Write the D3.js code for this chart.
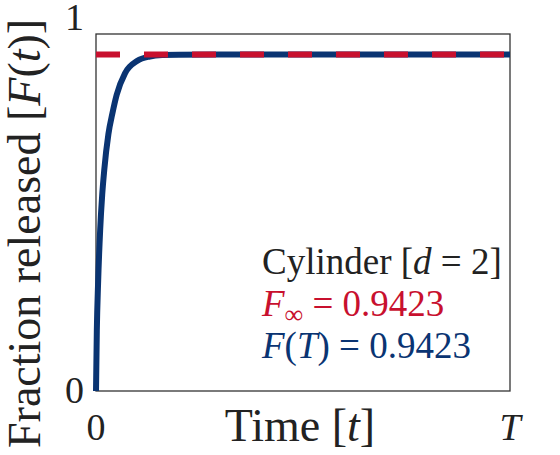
<!DOCTYPE html><html><head><meta charset="utf-8"><script src="https://cdn.jsdelivr.net/npm/d3@7"></script>
<style>body{margin:0;background:#fff}text{font-family:"Liberation Serif","DejaVu Serif",serif;fill:#222}</style></head><body><svg width="560" height="455"></svg>
<script>
const times=[0,0.002,0.005,0.01,0.015,0.02,0.03,0.04,0.05,0.07,0.1,0.13,0.16,0.2,0.3,0.5,1];
const frac=[0,0.17,0.3,0.45,0.55,0.62,0.72,0.78,0.83,0.89,0.925,0.937,0.941,0.942,0.9423,0.9423,0.9423];
const Finf=0.9423;
const xTicks=[0,1],xTickLabels=["0","T"],yTicks=[0,1],yTickLabels=["0","1"];
const svg=d3.select("svg");
const x=d3.scaleLinear().domain([0,1]).range([96,510]);
const y=d3.scaleLinear().domain([0,1]).range([391,34]);
svg.append("rect").attr("x",96).attr("y",34).attr("width",414).attr("height",357).attr("fill","none").attr("stroke","#333").attr("stroke-width",1.3);
svg.append("path").datum(times.map((t,i)=>[t,frac[i]])).attr("d",d3.line().x(d=>x(d[0])).y(d=>y(d[1])).curve(d3.curveMonotoneX)).attr("fill","none").attr("stroke","#0a3472").attr("stroke-width",6);
svg.append("line").attr("x1",x(0)).attr("x2",x(1)).attr("y1",y(Finf)).attr("y2",y(Finf)).attr("stroke","#c8102e").attr("stroke-width",6).attr("stroke-dasharray","24,24");
yTicks.forEach((v,i)=>svg.append("text").attr("x",84).attr("y",y(v)+(v?-4:12)).attr("text-anchor","end").attr("font-size",38).text(yTickLabels[i]));
xTicks.forEach((v,i)=>svg.append("text").attr("x",x(v)).attr("y",440).attr("text-anchor","middle").attr("font-size",38).attr("font-style",i?"italic":"normal").text(xTickLabels[i]));
const xl=svg.append("text").attr("x",300).attr("y",441).attr("text-anchor","middle").attr("font-size",46);
xl.append("tspan").text("Time [");xl.append("tspan").attr("font-style","italic").text("t");xl.append("tspan").text("]");
const yl=svg.append("text").attr("transform","translate(40,448) rotate(-90)").attr("text-anchor","start").attr("font-size",46);
yl.append("tspan").text("Fraction released [");yl.append("tspan").attr("font-style","italic").text("F");yl.append("tspan").text("(");yl.append("tspan").attr("font-style","italic").text("t");yl.append("tspan").text(")]");
const l1=svg.append("text").attr("x",262).attr("y",274).attr("font-size",37);
l1.append("tspan").text("Cylinder [");l1.append("tspan").attr("font-style","italic").text("d");l1.append("tspan").text(" = 2]");
const l2=svg.append("text").attr("x",262).attr("y",316).attr("font-size",37).style("fill","#c8102e");
l2.append("tspan").attr("font-style","italic").text("F");l2.append("tspan").attr("font-size",26).attr("dy",7).text("∞");l2.append("tspan").attr("dy",-7).text(" = 0.9423");
const l3=svg.append("text").attr("x",262).attr("y",358).attr("font-size",37).style("fill","#0a3472");
l3.append("tspan").attr("font-style","italic").text("F");l3.append("tspan").text("(");l3.append("tspan").attr("font-style","italic").text("T");l3.append("tspan").text(") = 0.9423");
</script></body></html>
